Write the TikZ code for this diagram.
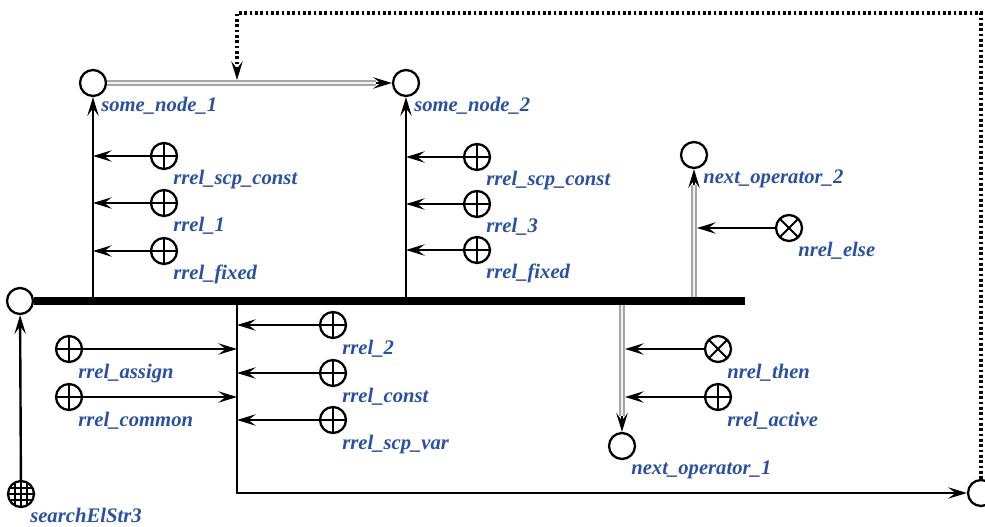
\documentclass[tikz,border=0pt]{standalone}
\usepackage{fontspec}
\setmainfont{Liberation Serif}
\usetikzlibrary{arrows.meta}
\definecolor{lblue}{RGB}{40,80,165}
\begin{document}
\begin{tikzpicture}[x=0.75pt,y=-0.75pt,
  every node/.style={inner sep=0pt},
  elem/.style={circle, draw, line width=1.7pt, minimum size=19.5pt, fill=white},
  rplus/.style={elem, path picture={\draw[line width=1.4pt]
     (path picture bounding box.north) -- (path picture bounding box.south)
     (path picture bounding box.west) -- (path picture bounding box.east);}},
  rcross/.style={elem, path picture={\draw[line width=1.4pt]
     ([shift={(45:20)}]path picture bounding box.center) -- ([shift={(225:20)}]path picture bounding box.center)
     ([shift={(135:20)}]path picture bounding box.center) -- ([shift={(315:20)}]path picture bounding box.center);}},
  rgrid/.style={elem, path picture={\draw[line width=1pt]
     ([xshift=-4.4pt]path picture bounding box.north) -- ([xshift=-4.4pt]path picture bounding box.south)
     (path picture bounding box.north) -- (path picture bounding box.south)
     ([xshift=4.4pt]path picture bounding box.north) -- ([xshift=4.4pt]path picture bounding box.south)
     ([yshift=-4.4pt]path picture bounding box.west) -- ([yshift=-4.4pt]path picture bounding box.east)
     (path picture bounding box.west) -- (path picture bounding box.east)
     ([yshift=4.4pt]path picture bounding box.west) -- ([yshift=4.4pt]path picture bounding box.east);}},
  lbl/.style={text=lblue, font=\fontsize{15.5}{18}\selectfont\bfseries\itshape, anchor=base west},
  arr/.style={-{Stealth[length=14pt,width=8.5pt,inset=5.5pt]}, line width=1.8pt},
  gline/.style={draw=gray!70, line width=1.3pt, double=gray!12, double distance=2pt},
  bus/.style={line width=5.3pt},
  dotarr/.style={line width=2.3pt, dash pattern=on 2pt off 2pt, -{Stealth[length=14pt,width=8.5pt,inset=5.5pt]}}
]
\useasboundingbox (0,0) rectangle (985,527);

% main element nodes
\node[elem] (c0) at (20,301) {};
\node[rgrid] (se) at (21,494) {};
\node[elem] (s1) at (93,83) {};
\node[elem] (s2) at (406,83) {};
\node[elem] (n2) at (694,155) {};
\node[elem] (n1) at (622,446) {};
\node[elem] (rc) at (981,493) {};

% coordinates
\coordinate (busend) at (745,301);
\coordinate (j1) at (93,301);
\coordinate (j2) at (406,301);
\coordinate (j3) at (694,301);
\coordinate (j4) at (622,301);
\coordinate (j5) at (237,301);
\coordinate (jb) at (237,493);
\coordinate (dtop) at (237,13);
\coordinate (dend) at (237,80);
\coordinate (a1) at (93,156);
\coordinate (a2) at (93,203);
\coordinate (a3) at (93,251);
\coordinate (a4) at (406,157);
\coordinate (a5) at (406,204);
\coordinate (a6) at (406,250);
\coordinate (a7) at (697,228);
\coordinate (a8) at (237,325);
\coordinate (a9) at (237,373);
\coordinate (a10) at (237,420);
\coordinate (a11) at (237,349);
\coordinate (a12) at (237,397);
\coordinate (a13) at (625,349);
\coordinate (a14) at (625,397);

% relation nodes
\node[rplus] (p1) at (164,156) {};
\node[rplus] (p2) at (164,203) {};
\node[rplus] (p3) at (164,251) {};
\node[rplus] (p4) at (477,157) {};
\node[rplus] (p5) at (477,204) {};
\node[rplus] (p6) at (477,250) {};
\node[rcross] (x1) at (789,228) {};
\node[rplus] (p7) at (333,325) {};
\node[rplus] (p8) at (333,373) {};
\node[rplus] (p9) at (333,420) {};
\node[rplus] (p10) at (69,349) {};
\node[rplus] (p11) at (69,397) {};
\node[rcross] (x2) at (718,349) {};
\node[rplus] (p12) at (718,397) {};

% bus
\draw[bus] (c0.east) -- (busend);

% structural arrows
\draw[arr] (se) -- (c0);
\draw[arr] (j1) -- (s1);
\draw[arr] (j2) -- (s2);
\draw[arr] (j5) -- (jb) -- (rc);

% gray double arrows
\draw[arr] (s1) -- (s2);
\draw[gline, shorten >=12pt] (s1) -- (s2);
\draw[arr] (j3) -- (n2);
\draw[gline, shorten >=12pt, shorten <=3pt] (j3) -- (n2);
\draw[arr] (j4) -- (n1);
\draw[gline, shorten >=12pt, shorten <=3pt] (j4) -- (n1);

% dotted arrow
\draw[dotarr] (rc.north) |- (dtop) -- (dend);

% relation arrows
\draw[arr] (p1) -- (a1);
\draw[arr] (p2) -- (a2);
\draw[arr] (p3) -- (a3);
\draw[arr] (p4) -- (a4);
\draw[arr] (p5) -- (a5);
\draw[arr] (p6) -- (a6);
\draw[arr] (x1) -- (a7);
\draw[arr] (p7) -- (a8);
\draw[arr] (p8) -- (a9);
\draw[arr] (p9) -- (a10);
\draw[arr] (p10) -- (a11);
\draw[arr] (p11) -- (a12);
\draw[arr] (x2) -- (a13);
\draw[arr] (p12) -- (a14);

% labels
\node[lbl] (lc0) at (30,522) {searchElStr3};
\node[lbl] (ls1) at (101,112) {some\_node\_1};
\node[lbl] (ls2) at (414,112) {some\_node\_2};
\node[lbl] (ln2) at (703,184) {next\_operator\_2};
\node[lbl] (ln1) at (631,474) {next\_operator\_1};
\node[lbl] (lp1) at (173,185) {rrel\_scp\_const};
\node[lbl] (lp2) at (173,232) {rrel\_1};
\node[lbl] (lp3) at (173,280) {rrel\_fixed};
\node[lbl] (lp4) at (486,186) {rrel\_scp\_const};
\node[lbl] (lp5) at (486,233) {rrel\_3};
\node[lbl] (lp6) at (486,279) {rrel\_fixed};
\node[lbl] (lx1) at (798,257) {nrel\_else};
\node[lbl] (lp7) at (342,354) {rrel\_2};
\node[lbl] (lp8) at (342,402) {rrel\_const};
\node[lbl] (lp9) at (342,449) {rrel\_scp\_var};
\node[lbl] (lp10) at (78,378) {rrel\_assign};
\node[lbl] (lp11) at (78,426) {rrel\_common};
\node[lbl] (lx2) at (727,378) {nrel\_then};
\node[lbl] (lp12) at (727,426) {rrel\_active};
\end{tikzpicture}
\end{document}
